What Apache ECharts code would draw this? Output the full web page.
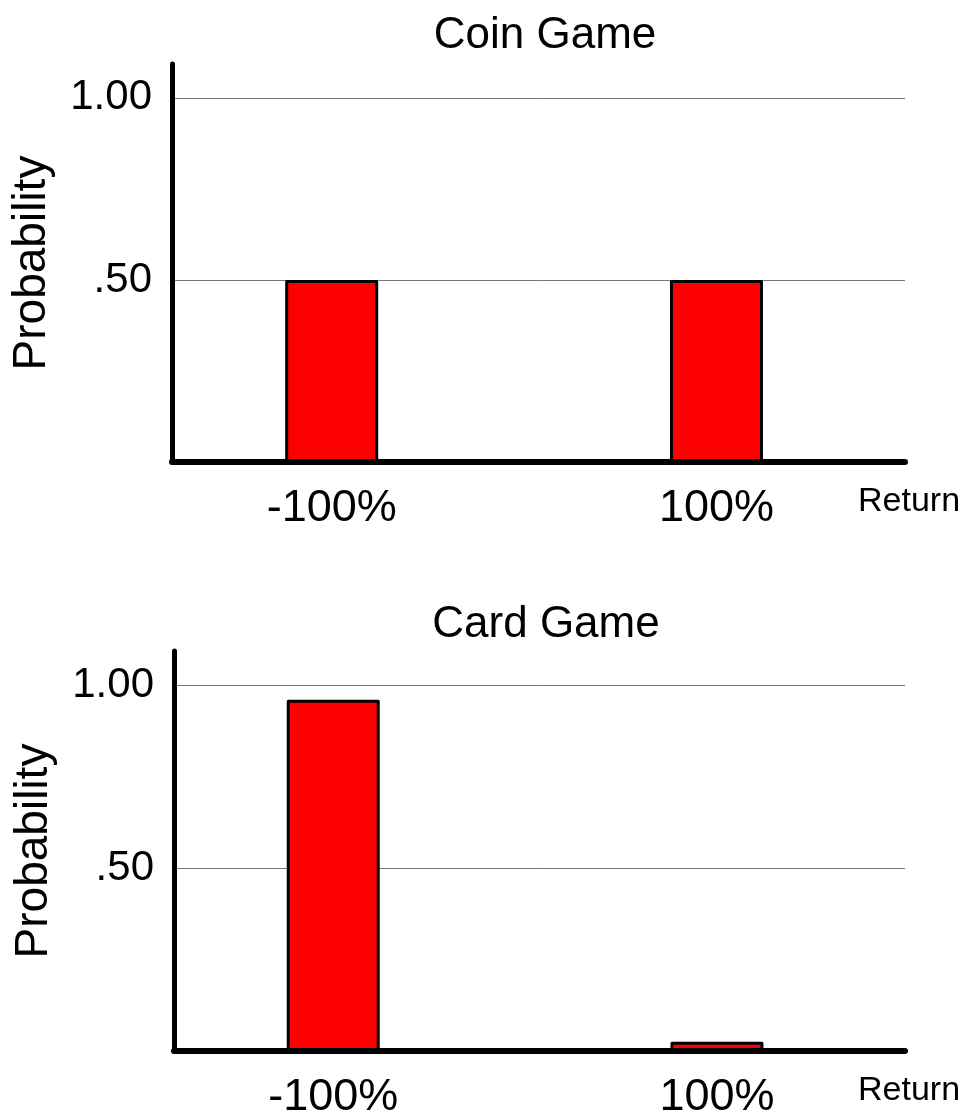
<!DOCTYPE html>
<html>
<head>
<meta charset="utf-8">
<script src="https://cdn.jsdelivr.net/npm/echarts@6/dist/echarts.min.js"></script>
<style>
  html, body { margin: 0; padding: 0; background: #fff; }
  #chart { width: 966px; height: 1113px; }
</style>
</head>
<body>
<div id="chart"></div>
<script>
// data
const returns = [-100, 100];
const returnLabels = ['-100%', '100%'];
const coinProb = [0.5, 0.5];
const cardProb = [0.96, 0.025];
const yTicks = [0.5, 1.0];
const yTickLabels = ['.50', '1.00'];
const titles = ['Coin Game', 'Card Game'];

const FONT = '"Liberation Sans", Arial, sans-serif';

function pairs(vals) {
  return returns.map((r, i) => [r, vals[i]]);
}

function xLabel(v) {
  const i = returns.indexOf(v);
  return i >= 0 ? returnLabels[i] : '';
}
function yLabel(v) {
  const i = yTicks.findIndex(t => Math.abs(t - v) < 1e-6);
  return i >= 0 ? yTickLabels[i] : '';
}

function xAxisOpt(gridIndex) {
  return {
    type: 'value',
    gridIndex: gridIndex,
    min: -183,
    max: 198,
    name: 'Return',
    nameLocation: 'end',
    nameGap: -47,
    nameTextStyle: {
      fontFamily: FONT, fontSize: 34, color: '#000',
      align: 'left', verticalAlign: 'top', padding: [23, 0, 0, 0]
    },
    axisLine: { onZero: true, lineStyle: { color: '#000', width: 6 } },
    axisTick: { show: false },
    splitLine: { show: false },
    axisLabel: {
      formatter: xLabel, fontFamily: FONT, fontSize: 45, color: '#000', margin: 24,
      showMinLabel: false, showMaxLabel: false
    }
  };
}

function yAxisOpt(gridIndex) {
  return {
    type: 'value',
    gridIndex: gridIndex,
    min: 0,
    max: 1.093,
    interval: 0.5,
    name: 'Probability',
    nameLocation: 'middle',
    nameGap: 117,
    nameTextStyle: { fontFamily: FONT, fontSize: 46, color: '#000' },
    axisLine: { show: true, onZero: false, lineStyle: { color: '#000', width: 5 } },
    axisTick: { show: false },
    splitLine: {
      show: true, showMinLine: false, showMaxLine: false,
      lineStyle: { color: '#777', width: 1 }
    },
    axisLabel: {
      formatter: yLabel, fontFamily: FONT, fontSize: 42, color: '#000', margin: 20,
      showMinLabel: false, showMaxLabel: false
    }
  };
}

function barSeries(idx, vals) {
  return {
    type: 'bar',
    xAxisIndex: idx,
    yAxisIndex: idx,
    data: pairs(vals),
    barWidth: 93,
    itemStyle: { color: '#ff0000', borderColor: '#000', borderWidth: 3, borderJoin: 'round' },
    emphasis: { disabled: true },
    z: 1
  };
}

const myChart = echarts.init(document.getElementById('chart'));
const option = {
  animation: false,
  backgroundColor: '#fff',
  title: [
    { text: titles[0], left: 540, top: 9, textAlign: 'center',
      textStyle: { fontFamily: FONT, fontSize: 44, fontWeight: 'normal', color: '#000' } },
    { text: titles[1], left: 541, top: 598, textAlign: 'center',
      textStyle: { fontFamily: FONT, fontSize: 44, fontWeight: 'normal', color: '#000' } }
  ],
  grid: [
    { left: 172, right: 61, top: 64, height: 398, outerBoundsMode: 'none' },
    { left: 174, right: 61, top: 651, height: 400, outerBoundsMode: 'none' }
  ],
  xAxis: [xAxisOpt(0), xAxisOpt(1)],
  yAxis: [yAxisOpt(0), yAxisOpt(1)],
  series: [barSeries(0, coinProb), barSeries(1, cardProb)]
};
myChart.setOption(option);
</script>
</body>
</html>
